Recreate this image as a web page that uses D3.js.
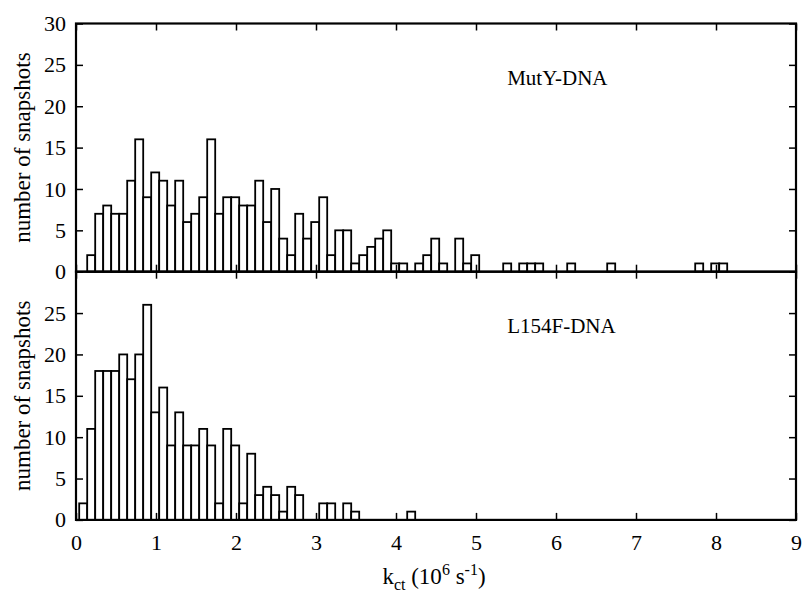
<!DOCTYPE html>
<html>
<head>
<meta charset="utf-8">
<script src="https://cdn.jsdelivr.net/npm/d3@7"></script>
<style>
  body { margin: 0; background: #fff; }
  svg { display: block; }
  text { font-family: "Liberation Serif", "Times New Roman", serif; fill: #000; }
  .tick line { stroke: #000; stroke-width: 1.5px; }
  .tick text { font-size: 22px; }
  .bar { fill: #fff; stroke: #000; stroke-width: 1.8px; }
  .frame { fill: none; stroke: #000; stroke-width: 2.2px; }
</style>
</head>
<body>
<svg width="805" height="592"></svg>
<script>
// histogram bins: width 0.1, counts per bin starting at the first bin edge
const binWidth = 0.1
const binStart = 0.04

const mutyCounts = [
  0, 2, 7, 8, 7, 7, 11, 16, 9, 12,
  11, 8, 11, 6, 7, 9, 16, 7, 9, 9,
  8, 8, 11, 6, 10, 4, 2, 7, 4, 6,
  9, 2, 5, 5, 1, 2, 3, 4, 5, 1,
  1, 0, 1, 2, 4, 1, 0, 4, 1, 2,
  0, 0, 0, 1, 0, 1, 1, 1, 0, 0,
  0, 1, 0, 0, 0, 0, 1, 0, 0, 0,
  0, 0, 0, 0, 0, 0, 0, 1, 0, 1,
  1
]

const l154fCounts = [
  2, 11, 18, 18, 18, 20, 17, 20, 26, 13,
  16, 9, 13, 9, 9, 11, 9, 2, 11, 9,
  2, 8, 3, 4, 3, 1, 4, 3, 0, 0,
  2, 2, 0, 2, 1, 0, 0, 0, 0, 0,
  0, 1
]

const xTicks = [0, 1, 2, 3, 4, 5, 6, 7, 8, 9]
const topYTicks = [0, 5, 10, 15, 20, 25, 30]
const bottomYTicks = [0, 5, 10, 15, 20, 25]

const panels = [
  { name: 'MutY-DNA', counts: mutyCounts, yTicks: topYTicks },
  { name: 'L154F-DNA', counts: l154fCounts, yTicks: bottomYTicks }
]

const plotLeft = 76
const plotRight = 796
const plotTop = 23.5
const panelHeight = 248.2
const tickLen = 7

const svg = d3.select('svg')

const x = d3.scaleLinear()
  .domain([0, 9])
  .range([plotLeft, plotRight])

panels.forEach((panel, p) => {
  const y0 = plotTop + p * panelHeight
  const y = d3.scaleLinear()
    .domain([0, 30])
    .range([y0 + panelHeight, y0])

  const g = svg.append('g').attr('class', 'panel')

  // bars
  const bins = panel.counts
    .map((c, i) => ({ i: i, c: c }))
    .filter(d => d.c > 0)

  g.selectAll('.bar')
    .data(bins)
    .enter()
    .append('rect')
    .attr('class', 'bar')
    .attr('x', d => x(binStart + d.i * binWidth))
    .attr('width', d => x(binStart + (d.i + 1) * binWidth) - x(binStart + d.i * binWidth))
    .attr('y', d => y(d.c))
    .attr('height', d => y(0) - y(d.c))

  // ticks, all inward, mirrored on every side
  g.append('g')
    .attr('transform', `translate(${plotLeft},0)`)
    .call(d3.axisLeft(y).tickValues(panel.yTicks).tickSize(-tickLen).tickPadding(10))
    .call(a => a.select('.domain').remove())

  g.append('g')
    .attr('transform', `translate(${plotRight},0)`)
    .call(d3.axisRight(y).tickValues(panel.yTicks).tickSize(-tickLen).tickFormat(''))
    .call(a => a.select('.domain').remove())

  g.append('g')
    .attr('transform', `translate(0,${y0 + panelHeight})`)
    .call(d3.axisBottom(x).tickValues(xTicks).tickSize(-tickLen).tickPadding(14)
      .tickFormat(p === panels.length - 1 ? d3.format('d') : ''))
    .call(a => a.select('.domain').remove())

  g.append('g')
    .attr('transform', `translate(0,${y0})`)
    .call(d3.axisTop(x).tickValues(xTicks).tickSize(-tickLen).tickFormat(''))
    .call(a => a.select('.domain').remove())

  g.append('rect')
    .attr('class', 'frame')
    .attr('x', plotLeft)
    .attr('y', y0)
    .attr('width', plotRight - plotLeft)
    .attr('height', panelHeight)

  // panel label
  g.append('text')
    .attr('x', x(5.39))
    .attr('y', y(22.6))
    .attr('font-size', 21)
    .text(panel.name)

  // y axis title
  g.append('text')
    .attr('transform', `translate(30,${y0 + panelHeight / 2}) rotate(-90)`)
    .attr('text-anchor', 'middle')
    .attr('font-size', 23)
    .text('number of snapshots')
})

// x axis title
const xTitle = svg.append('text')
  .attr('x', 434)
  .attr('y', 584)
  .attr('text-anchor', 'middle')
  .attr('font-size', 23)

xTitle.append('tspan').text('k')
xTitle.append('tspan').attr('font-size', 16).attr('dy', 6).text('ct')
xTitle.append('tspan').attr('dy', -6).text(' (10')
xTitle.append('tspan').attr('font-size', 16).attr('dy', -9).text('6')
xTitle.append('tspan').attr('dy', 9).text(' s')
xTitle.append('tspan').attr('font-size', 16).attr('dy', -9).text('-1')
xTitle.append('tspan').attr('dy', 9).text(')')
</script>
</body>
</html>
